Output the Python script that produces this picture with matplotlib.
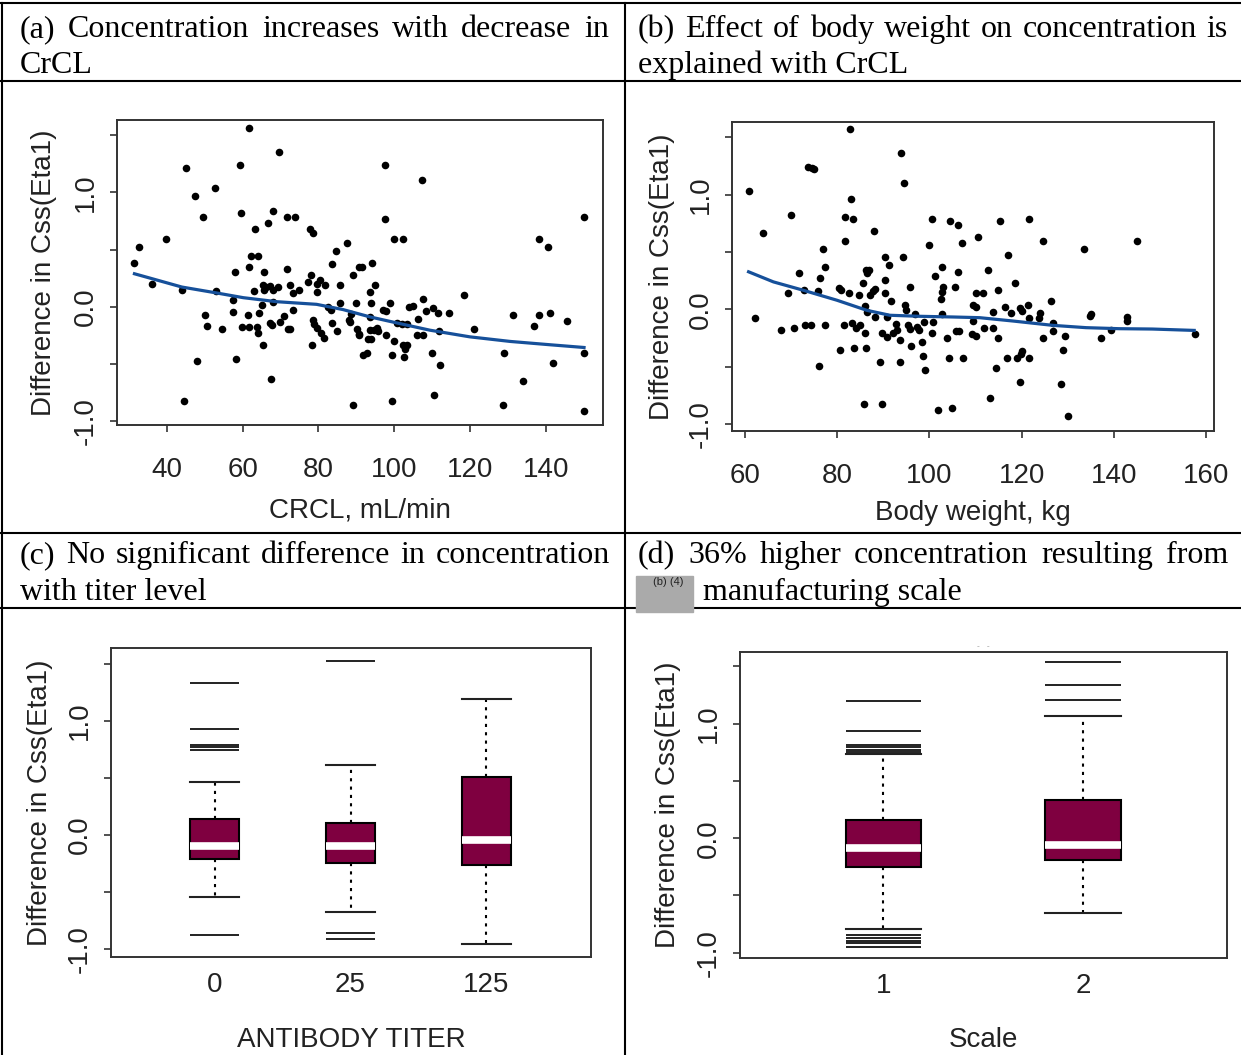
import matplotlib
matplotlib.use("Agg")
import matplotlib.pyplot as plt
from matplotlib.patches import Rectangle

plt.rcParams["font.family"] = ["Liberation Sans", "DejaVu Sans"]

# ---- data ----
# (a) CRCL vs difference in Css
crcl = [61.8, 69.7, 45.1, 59.3, 97.6, 107.2, 52.7, 47.5, 49.5, 59.5,
        68.1, 66.6, 71.6, 73.9, 63.3, 77.8, 78.5, 97.5, 150.0, 39.8,
        99.9, 102.4, 138.1, 140.6, 32.8, 87.6, 84.6, 62.1, 64.1, 31.5,
        83.5, 94.1, 90.8, 91.5, 61.6, 58.0, 65.7, 71.7, 89.0, 78.0,
        77.3, 80.4, 79.7, 65.5, 66.3, 67.2, 69.4, 72.5, 73.2, 75.0,
        63.0, 65.6, 67.9, 81.7, 85.7, 94.9, 93.7, 36.2, 44.0, 53.0,
        79.5, 57.6, 67.9, 118.3, 65.0, 85.7, 89.9, 93.8, 98.8, 82.6,
        83.2, 73.4, 57.6, 64.4, 61.5, 50.0, 88.7, 93.6, 96.9, 97.8,
        103.8, 104.8, 107.6, 108.3, 110.3, 111.6, 114.3, 106.2, 131.2, 138.1,
        141.0, 136.8, 145.6, 50.5, 54.6, 59.9, 61.8, 63.7, 64.1, 67.2,
        67.8, 69.9, 70.9, 72.1, 72.5, 78.5, 78.9, 79.5, 80.6, 81.5,
        83.5, 84.9, 88.0, 88.3, 90.2, 90.6, 90.8, 93.6, 94.6, 95.4,
        95.7, 97.7, 100.6, 102.0, 103.4, 100.0, 102.4, 103.4, 102.9, 102.5,
        99.5, 105.9, 107.6, 111.7, 121.0, 93.1, 93.8, 91.8, 92.7, 109.8,
        112.1, 128.9, 150.0, 141.7, 133.8, 65.4, 78.4, 47.9, 58.3, 67.6,
        44.6, 89.2, 99.3, 110.4, 128.7, 150.0]
eta_a = [1.565, 1.357, 1.217, 1.238, 1.238, 1.113, 1.043, 0.971, 0.783, 0.817,
         0.841, 0.730, 0.783, 0.783, 0.678, 0.678, 0.643, 0.765, 0.783, 0.591,
         0.591, 0.591, 0.591, 0.522, 0.522, 0.557, 0.487, 0.449, 0.449, 0.380,
         0.377, 0.383, 0.348, 0.348, 0.348, 0.307, 0.307, 0.328, 0.278, 0.278,
         0.220, 0.232, 0.203, 0.191, 0.174, 0.183, 0.174, 0.191, 0.122, 0.151,
         0.139, 0.145, 0.145, 0.191, 0.191, 0.191, 0.133, 0.203, 0.151, 0.139,
         0.133, 0.058, 0.046, 0.104, 0.020, 0.035, 0.035, 0.035, 0.035, 0.000,
         -0.023, -0.023, -0.041, -0.052, -0.072, -0.072, -0.058, -0.087, -0.023, -0.038,
         0.000, 0.012, 0.067, -0.038, -0.006, -0.052, -0.052, -0.104, -0.072, -0.072,
         -0.052, -0.162, -0.125, -0.162, -0.194, -0.177, -0.177, -0.177, -0.226, -0.136,
         -0.159, -0.130, -0.075, -0.194, -0.191, -0.110, -0.145, -0.188, -0.226, -0.267,
         -0.139, -0.212, -0.116, -0.130, -0.191, -0.232, -0.246, -0.203, -0.203, -0.180,
         -0.212, -0.246, -0.139, -0.145, -0.145, -0.296, -0.336, -0.336, -0.371, -0.441,
         -0.423, -0.249, -0.249, -0.209, -0.194, -0.284, -0.284, -0.423, -0.406, -0.406,
         -0.510, -0.406, -0.406, -0.493, -0.649, -0.336, -0.336, -0.475, -0.458, -0.632,
         -0.823, -0.858, -0.823, -0.771, -0.858, -0.910]
loess_a_x = [31.5, 44.0, 53.2, 60.2, 69.0, 79.5, 86.5, 93.6, 100.6, 109.4, 119.9, 130.5, 141.0, 150.0]
loess_a_y = [0.290, 0.174, 0.122, 0.081, 0.046, 0.023, -0.023, -0.087, -0.139, -0.203, -0.261, -0.301, -0.330, -0.354]

# (b) body weight vs difference in Css
weight = [82.7, 93.8, 73.7, 74.4, 75.0, 60.8, 94.5, 82.9, 69.9, 81.6,
          83.3, 100.6, 104.4, 106.1, 115.4, 121.7, 63.8, 87.9, 81.7, 107.0,
          110.5, 124.6, 99.9, 133.6, 145.0, 76.8, 90.3, 94.2, 117.0, 91.1,
          77.4, 86.2, 86.9, 86.5, 102.8, 112.8, 106.3, 71.6, 76.2, 101.2,
          90.3, 85.6, 118.6, 105.6, 95.7, 103.0, 88.1, 87.7, 80.3, 80.7,
          114.9, 69.2, 72.8, 75.7, 82.6, 84.6, 90.4, 102.8, 102.4, 91.6,
          87.1, 110.2, 111.6, 126.4, 94.6, 95.0, 85.9, 109.5, 110.2, 116.5,
          119.6, 121.4, 117.8, 120.0, 123.9, 123.8, 113.9, 135.1, 134.9, 143.0,
          143.0, 62.1, 86.4, 88.1, 90.7, 96.9, 102.8, 100.8, 109.5, 121.7,
          126.8, 81.4, 83.2, 84.9, 72.9, 74.2, 77.4, 70.6, 67.7, 84.0,
          92.7, 95.4, 97.2, 98.9, 97.8, 95.7, 92.9, 89.7, 90.7, 92.0,
          93.6, 95.9, 98.3, 85.9, 100.5, 105.8, 106.4, 103.7, 109.2, 110.2,
          111.8, 113.9, 114.8, 126.8, 124.6, 129.5, 137.3, 139.5, 157.7, 80.6,
          83.5, 86.1, 89.2, 93.6, 98.6, 104.3, 107.3, 99.1, 116.8, 119.1,
          120.0, 119.9, 121.7, 128.9, 76.0, 114.5, 119.6, 128.5, 113.2, 85.8,
          89.7, 101.9, 104.8, 130.1]
eta_b = [1.574, 1.367, 1.245, 1.230, 1.224, 1.035, 1.105, 0.962, 0.822, 0.808,
         0.787, 0.790, 0.770, 0.735, 0.770, 0.790, 0.662, 0.682, 0.595, 0.577,
         0.630, 0.595, 0.560, 0.525, 0.595, 0.525, 0.458, 0.458, 0.472, 0.385,
         0.370, 0.347, 0.347, 0.318, 0.370, 0.347, 0.329, 0.315, 0.277, 0.294,
         0.259, 0.230, 0.227, 0.192, 0.192, 0.195, 0.178, 0.160, 0.184, 0.172,
         0.172, 0.140, 0.166, 0.157, 0.143, 0.122, 0.140, 0.152, 0.087, 0.070,
         0.122, 0.140, 0.140, 0.070, 0.041, -0.003, 0.026, 0.041, 0.020, 0.020,
         0.015, 0.035, -0.032, -0.015, -0.032, -0.073, -0.020, -0.038, -0.055, -0.067,
         -0.102, -0.073, -0.026, -0.067, -0.067, -0.044, -0.038, -0.114, -0.102, -0.073,
         -0.120, -0.140, -0.120, -0.140, -0.140, -0.140, -0.140, -0.160, -0.178, -0.160,
         -0.125, -0.140, -0.155, -0.114, -0.184, -0.169, -0.178, -0.207, -0.242, -0.207,
         -0.271, -0.318, -0.283, -0.207, -0.207, -0.192, -0.192, -0.248, -0.213, -0.230,
         -0.160, -0.160, -0.248, -0.190, -0.248, -0.230, -0.248, -0.178, -0.213, -0.353,
         -0.335, -0.335, -0.458, -0.458, -0.405, -0.423, -0.423, -0.528, -0.423, -0.423,
         -0.364, -0.388, -0.423, -0.353, -0.493, -0.510, -0.633, -0.650, -0.773, -0.825,
         -0.825, -0.878, -0.860, -0.930]
loess_b_x = [60.7, 66.1, 72.6, 79.9, 86.4, 91.4, 97.9, 105.1, 110.9, 118.1, 126.8, 134.0, 141.2, 148.4, 157.5]
loess_b_y = [0.327, 0.239, 0.166, 0.079, -0.009, -0.052, -0.061, -0.067, -0.073, -0.102, -0.140, -0.160, -0.169, -0.172, -0.184]

# (c) antibody titer boxplots
titer_labels = ["0", "25", "125"]
c_q1 = [-0.216, -0.251, -0.268]
c_med = [-0.102, -0.102, -0.047]
c_q3 = [0.137, 0.105, 0.510]
c_lo = [-0.545, -0.679, -0.954]
c_hi = [0.464, 0.612, 1.190]
c_out = [[1.333, 0.927, 0.787, 0.767, 0.744, -0.878], [1.525, -0.860, -0.910], []]

# (d) manufacturing scale boxplots
scale_labels = ["1", "2"]
d_q1 = [-0.248, -0.189]
d_med = [-0.085, -0.055]
d_q3 = [0.160, 0.335]
d_lo = [-0.790, -0.656]
d_hi = [0.734, 1.064]
d_out = [[1.195, 0.932, 0.810, 0.795, 0.772, 0.755, -0.848, -0.874, -0.898, -0.918, -0.953],
         [1.541, 1.335, 1.209]]

W, H = 1241, 1055
FS = 20          # axis text size
HF = 23          # header (Times) size
INK = "#222222"
BOXCOL = "#7f0040"
LOESS = "#16509a"

fig = plt.figure(figsize=(W / 100, H / 100), dpi=100)

# background layer in pixel coordinates for the table frame and captions
bg = fig.add_axes([0, 0, 1, 1])
bg.set_xlim(0, W)
bg.set_ylim(H, 0)
bg.axis("off")
for y in (3, 81, 533, 608):
    bg.plot([0, W], [y, y], color="black", lw=1.5, clip_on=False)
for x in (2, 625):
    bg.plot([x, x], [3, H], color="black", lw=1.5, clip_on=False)

renderer = fig.canvas.get_renderer()


def justified(text, x0, x1, y):
    words = text.split()
    ts = [bg.text(0, y, w, fontsize=HF, family="Liberation Serif", va="baseline") for w in words]
    ws = [t.get_window_extent(renderer).width for t in ts]
    gap = (x1 - x0 - sum(ws)) / (len(ws) - 1)
    x = x0
    for t, w in zip(ts, ws):
        t.set_x(x)
        x += w + gap


def plain(text, x, y):
    bg.text(x, y, text, fontsize=HF, family="Liberation Serif", va="baseline")


justified("(a) Concentration increases with decrease in", 20, 609, 37)
plain("CrCL", 20, 73)
justified("(b) Effect of body weight on concentration is", 638, 1228, 37)
plain("explained with CrCL", 638, 73)
justified("(c) No significant difference in concentration", 20, 610, 563)
plain("with titer level", 20, 600)
justified("(d) 36% higher concentration resulting from", 638, 1228, 563)
bg.add_patch(Rectangle((636, 576), 57, 36, color="#aaaaaa", zorder=3))
bg.text(668, 582, "(b) (4)", fontsize=8, ha="center", va="center", color=INK, zorder=4)
plain("manufacturing scale", 703, 600)
bg.text(983, 646, "-   -", fontsize=6, ha="center", va="center", color="#999999")


def add_ax(l, t, r, b):
    return fig.add_axes([l / W, 1 - b / H, (r - l) / W, (b - t) / H])


def style(ax, xlim, ylim, xlabel, xlab_y, ylab_x, xpad, xlen):
    ax.set_xlim(xlim)
    ax.set_ylim(ylim)
    for s in ax.spines.values():
        s.set_color("#333333")
        s.set_linewidth(1.4)
    ax.set_yticks([-1, -0.5, 0, 0.5, 1, 1.5])
    ax.set_yticklabels(["-1.0", "", "0.0", "", "1.0", ""], rotation=90, va="center")
    ax.tick_params(axis="y", length=5, width=1.2, color="#333333", labelsize=FS,
                   labelcolor=INK, pad=8)
    ax.tick_params(axis="x", length=xlen, width=1.2, color="#333333", labelsize=FS,
                   labelcolor=INK, pad=xpad)
    ax.set_xlabel(xlabel, fontsize=FS, color=INK, va="center")
    ax.xaxis.set_label_coords(0.5, xlab_y)
    ax.set_ylabel("Difference in Css(Eta1)", fontsize=FS, color=INK, va="center")
    ax.yaxis.set_label_coords(ylab_x, 0.5)


# (a)
ax = add_ax(117, 120, 603, 425)
ax.scatter(crcl, eta_a, s=30, color="black", linewidths=0, zorder=2)
ax.plot(loess_a_x, loess_a_y, color=LOESS, lw=2.3, zorder=3)
ax.set_xticks([40, 60, 80, 100, 120, 140])
style(ax, (26.9, 155.0), (-1.031, 1.633), "CRCL, mL/min", -0.279, -0.150, 18, 5)

# (b)
ax = add_ax(732, 122, 1214, 431)
ax.scatter(weight, eta_b, s=30, color="black", linewidths=0, zorder=2)
ax.plot(loess_b_x, loess_b_y, color=LOESS, lw=2.3, zorder=3)
ax.set_xticks([60, 80, 100, 120, 140, 160])
style(ax, (57.1, 161.8), (-1.061, 1.633), "Body weight, kg", -0.266, -0.145, 18, 5)


def boxes(ax, q1, med, q3, lo, hi, outs, labels, w):
    pos = list(range(1, len(med) + 1))
    stats = [dict(q1=a, med=m, q3=b, whislo=l, whishi=h)
             for a, m, b, l, h in zip(q1, med, q3, lo, hi)]
    ax.bxp(stats, positions=pos, widths=w, capwidths=w, patch_artist=True,
           showfliers=False, manage_ticks=False,
           boxprops=dict(facecolor=BOXCOL, edgecolor="black", linewidth=1.5),
           medianprops=dict(color="white", linewidth=5.5, solid_capstyle="butt"),
           whiskerprops=dict(color="black", linewidth=1.5, linestyle=(0, (1.5, 2.5))),
           capprops=dict(color=INK, linewidth=1.5))
    for p, ys in zip(pos, outs):
        if ys:
            ax.hlines(ys, p - w / 2, p + w / 2, color=INK, lw=1.4)
    ax.set_xticks(pos)
    ax.set_xticklabels(labels)


# (c)
ax = add_ax(111, 648, 591, 957)
boxes(ax, c_q1, c_med, c_q3, c_lo, c_hi, c_out, titer_labels, 0.36)
style(ax, (0.237, 3.77), (-1.07, 1.636), "ANTIBODY TITER", -0.267, -0.147, 11, 0)

# (d)
ax = add_ax(740, 652, 1227, 958)
boxes(ax, d_q1, d_med, d_q3, d_lo, d_hi, d_out, scale_labels, 0.38)
style(ax, (0.281, 2.722), (-1.046, 1.626), "Scale", -0.268, -0.147, 11, 0)

fig.savefig("out.png", dpi=100)
